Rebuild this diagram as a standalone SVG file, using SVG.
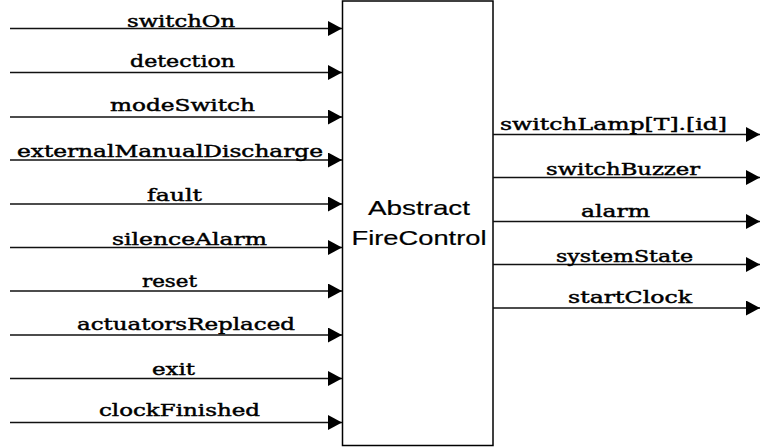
<svg xmlns="http://www.w3.org/2000/svg" width="760" height="448" viewBox="0 0 760 448">
<style>
.bg{fill:#fff}
.box{fill:#fff;stroke:#000;stroke-width:1.5}
.ln{stroke:#111;stroke-width:1.4;fill:none}
.lbl{font-family:"DejaVu Serif","Liberation Serif",serif;font-size:17px;fill:#000;stroke:#000;stroke-width:0.45}
.nm{font-family:"Liberation Sans",Arial,sans-serif;font-size:21px;fill:#000;text-anchor:middle;stroke:#000;stroke-width:0.2}
</style>
<defs>
<marker id="ah" markerUnits="userSpaceOnUse" markerWidth="14" markerHeight="15" refX="14" refY="7.5" orient="auto">
<path d="M0,0 L14,7.5 L0,15 z" fill="#000"/>
</marker>
</defs>
<rect class="bg" x="0" y="0" width="760" height="448"/>
<g id="node-AbstractFireControl">
<rect class="box" x="342.5" y="1" width="150.5" height="444.5"/>
<text class="nm" x="419" y="215" textLength="102" lengthAdjust="spacingAndGlyphs">Abstract</text>
<text class="nm" x="419" y="245" textLength="135" lengthAdjust="spacingAndGlyphs">FireControl</text>
</g>
<g id="connectors">
<g id="in-switchOn"><line class="ln" x1="10" y1="28.5" x2="342" y2="28.5" marker-end="url(#ah)"/><text class="lbl" x="127" y="27" textLength="108" lengthAdjust="spacingAndGlyphs">switchOn</text></g>
<g id="in-detection"><line class="ln" x1="10" y1="72.5" x2="342" y2="72.5" marker-end="url(#ah)"/><text class="lbl" x="130" y="67" textLength="105" lengthAdjust="spacingAndGlyphs">detection</text></g>
<g id="in-modeSwitch"><line class="ln" x1="10" y1="117" x2="342" y2="117" marker-end="url(#ah)"/><text class="lbl" x="110" y="111" textLength="145" lengthAdjust="spacingAndGlyphs">modeSwitch</text></g>
<g id="in-externalManualDischarge"><line class="ln" x1="10" y1="160" x2="342" y2="160" marker-end="url(#ah)"/><text class="lbl" x="17" y="156.5" textLength="306" lengthAdjust="spacingAndGlyphs">externalManualDischarge</text></g>
<g id="in-fault"><line class="ln" x1="10" y1="204" x2="342" y2="204" marker-end="url(#ah)"/><text class="lbl" x="147" y="200.5" textLength="55" lengthAdjust="spacingAndGlyphs">fault</text></g>
<g id="in-silenceAlarm"><line class="ln" x1="10" y1="247.5" x2="342" y2="247.5" marker-end="url(#ah)"/><text class="lbl" x="112" y="245" textLength="155" lengthAdjust="spacingAndGlyphs">silenceAlarm</text></g>
<g id="in-reset"><line class="ln" x1="10" y1="291" x2="342" y2="291" marker-end="url(#ah)"/><text class="lbl" x="142" y="287" textLength="55" lengthAdjust="spacingAndGlyphs">reset</text></g>
<g id="in-actuatorsReplaced"><line class="ln" x1="10" y1="335" x2="342" y2="335" marker-end="url(#ah)"/><text class="lbl" x="77" y="330" textLength="218" lengthAdjust="spacingAndGlyphs">actuatorsReplaced</text></g>
<g id="in-exit"><line class="ln" x1="10" y1="378.5" x2="342" y2="378.5" marker-end="url(#ah)"/><text class="lbl" x="152" y="375" textLength="43" lengthAdjust="spacingAndGlyphs">exit</text></g>
<g id="in-clockFinished"><line class="ln" x1="10" y1="422.5" x2="342" y2="422.5" marker-end="url(#ah)"/><text class="lbl" x="99" y="416" textLength="161" lengthAdjust="spacingAndGlyphs">clockFinished</text></g>
<g id="out-switchLamp"><line class="ln" x1="493" y1="134.5" x2="760" y2="134.5" marker-end="url(#ah)"/><text class="lbl" x="500" y="129.5" textLength="227" lengthAdjust="spacingAndGlyphs">switchLamp[T].[id]</text></g>
<g id="out-switchBuzzer"><line class="ln" x1="493" y1="177.5" x2="760" y2="177.5" marker-end="url(#ah)"/><text class="lbl" x="546" y="175" textLength="154" lengthAdjust="spacingAndGlyphs">switchBuzzer</text></g>
<g id="out-alarm"><line class="ln" x1="493" y1="221.5" x2="760" y2="221.5" marker-end="url(#ah)"/><text class="lbl" x="581" y="217" textLength="69" lengthAdjust="spacingAndGlyphs">alarm</text></g>
<g id="out-systemState"><line class="ln" x1="493" y1="264.5" x2="760" y2="264.5" marker-end="url(#ah)"/><text class="lbl" x="556" y="261.5" textLength="137" lengthAdjust="spacingAndGlyphs">systemState</text></g>
<g id="out-startClock"><line class="ln" x1="493" y1="308" x2="760" y2="308" marker-end="url(#ah)"/><text class="lbl" x="568" y="303" textLength="124" lengthAdjust="spacingAndGlyphs">startClock</text></g>
</g>
</svg>
